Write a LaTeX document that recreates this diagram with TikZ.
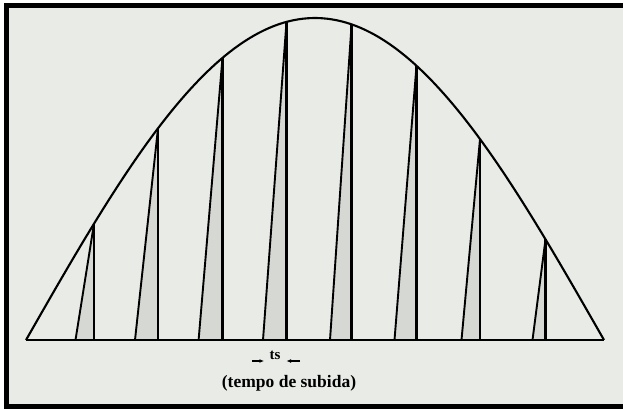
\documentclass[tikz,border=0pt]{standalone}
\usepackage{fontspec}
\setmainfont{Liberation Serif}
\usetikzlibrary{arrows.meta}
\definecolor{paper}{RGB}{233,235,231}
\definecolor{rampgray}{RGB}{214,216,212}
\begin{document}
\begin{tikzpicture}[x=1pt, y=-1pt]
\tikzset{
  frame/.style={draw, line width=5pt, fill=paper},
  curve/.style={line width=2.1pt, line join=round},
  rampfill/.style={fill=rampgray, draw=none},
  riseedge/.style={line width=1.9pt},
  spike/.style={line width=2.8pt},
  tsarrow/.style={-{Latex[length=4.5pt,width=4pt]}, line width=1.1pt},
  label/.style={font=\bfseries\fontsize{15}{17}\selectfont, inner sep=0pt},
  caption/.style={font=\bfseries\fontsize{17.5}{20}\selectfont, inner sep=0pt}
}
\useasboundingbox (0,0) rectangle (623,409);
\draw[frame] (6,6) rectangle (632,406);

% sawtooth ramps under the envelope
\foreach \a/\b in {75.5/94, 135/158, 198.6/222.5, 263/286.5, 330/351.6, 394.5/416.5, 461.5/480, 532.5/545.5}{
  \pgfmathsetmacro\ytip{340-322*sin((\b-26)/578*180)}
  \fill[rampfill] (\a,340) -- (\b,\ytip) -- (\b,340) -- cycle;
  \draw[riseedge] (\a,340) -- (\b,\ytip);
  \draw[spike] (\b,340) -- (\b,\ytip);
}

% envelope and base line
\draw[curve] plot[domain=26:604, samples=120] (\x, {340-322*sin((\x-26)/578*180)});
\draw[curve] (26,340) -- (604,340);

% rise time
\coordinate (riseL) at (264,361);
\coordinate (riseR) at (286.5,361);
\coordinate (riseLtail) at (252,361);
\coordinate (riseRtail) at (300,361);
\draw[tsarrow] (riseLtail) -- (riseL);
\draw[tsarrow] (riseRtail) -- (riseR);
\node[label] (ts) at (275,355) {ts};
\node[caption] (subida) at (289,383) {(tempo de subida)};
\end{tikzpicture}
\end{document}
